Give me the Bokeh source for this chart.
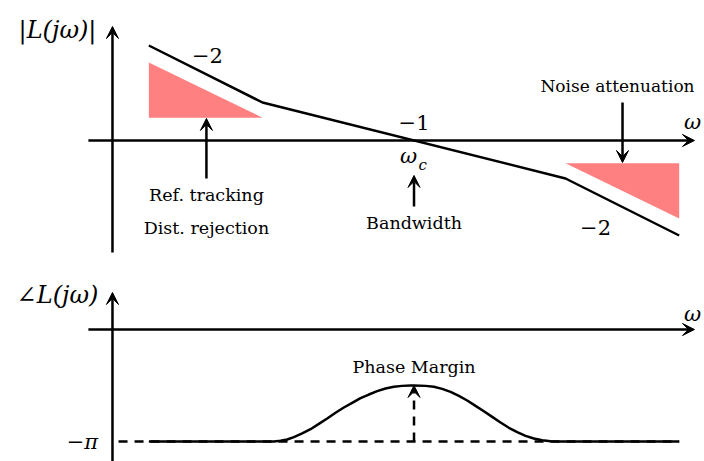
from bokeh.plotting import figure
from bokeh.models import Range1d, Arrow, VeeHead, Label
from bokeh.embed import file_html
from bokeh.resources import INLINE

# Loop-shaping sketch: asymptotic |L(jw)| (log-log) and the phase of L(jw).
# x is log10(w / w_c), so the crossover frequency sits at 0.

# magnitude asymptote (log10 |L|) at its break points
mag_logw = [-1.75, -1.0, 1.0, 1.75]
mag_log = [2.5, 1.0, -1.0, -2.5]

# low-frequency performance region (tracking / disturbance rejection)
low_logw = [-1.75, -1.75, -1.0]
low_log = [2.05, 0.6, 0.6]

# high-frequency region (noise attenuation)
high_logw = [1.0, 1.75, 1.75]
high_log = [-0.6, -0.6, -2.05]

# phase of L(jw) in degrees
phase_logw = [-1.75, -0.925, -0.881, -0.837, -0.793, -0.738, -0.683, -0.628,
              -0.573, -0.518, -0.463, -0.408, -0.353, -0.298, -0.243, -0.188,
              -0.133, -0.078, -0.023, 0.0, 0.076, 0.131, 0.186, 0.241, 0.296,
              0.351, 0.406, 0.461, 0.516, 0.571, 0.626, 0.681, 0.736, 0.791,
              0.846, 0.901, 0.945, 1.75]
phase_deg = [-180, -180, -178.9, -176.8, -173, -167.1, -160.2, -151.6,
             -143, -133.9, -125.4, -117.9, -110.4, -104.5, -99.1, -94.8,
             -92.1, -90.6, -90.1, -90, -90.6, -92.1, -95.4, -100.2, -106.6,
             -114.1, -122.7, -131.3, -140.4, -149.5, -158, -165, -170.9, -175.2,
             -177.9, -179.5, -180, -180]
phase_peak = -90
phase_floor = -180

slope_labels = ["\u22122", "\u22121", "\u22122"]

BLACK = "black"
RED = "#ff8080"
SERIF = "DejaVu Serif"
LW = 2.5

p = figure(width=704, height=461, output_backend="svg", toolbar_location=None,
           x_range=Range1d(-2.729, 1.917), y_range=Range1d(-8.447, 3.684),
           x_axis_location=None, y_axis_location=None, min_border=0,
           outline_line_color=None, background_fill_color="white",
           border_fill_color="white")
p.extra_y_ranges = {"phase": Range1d(-212.14, 528.75)}
p.grid.visible = False


def head():
    return VeeHead(size=12, fill_color=BLACK, line_color=BLACK, line_width=1)


def arrow(x0, y0, x1, y1, rng="default", dash="solid"):
    p.add_layout(Arrow(x_start=x0, y_start=y0, x_end=x1, y_end=y1,
                       end=head(), line_color=BLACK, line_width=LW,
                       line_dash=dash, y_range_name=rng))


def label(x, y, text, size, rng="default", style="normal"):
    p.add_layout(Label(x=x, y=y, text=text, text_font=SERIF,
                       text_font_size=f"{size}px", text_font_style=style,
                       text_align="center", text_baseline="middle",
                       text_color=BLACK, y_range_name=rng))


# ---- magnitude panel ----
p.patch(low_logw, low_log, fill_color=RED, line_color=None)
p.patch(high_logw, high_log, fill_color=RED, line_color=None)

arrow(-2.149, 0, 1.851, 0)             # w axis
arrow(-1.99, -2.947, -1.99, 3.0)       # |L| axis

p.line(mag_logw, mag_log, line_color=BLACK, line_width=LW)

arrow(-1.37, -1.0, -1.37, 0.58)        # ref. tracking
arrow(0.0, -1.737, 0.0, -0.92)         # bandwidth
arrow(1.376, 1.0, 1.376, -0.58)        # noise attenuation

label(-2.353, 2.9, "|L(j\u03c9)|", 24, style="italic")
label(-1.363, 2.237, slope_labels[0], 21)
label(0.0, 0.474, slope_labels[1], 21)
label(1.198, -2.289, slope_labels[2], 21)
label(-0.036, -0.42, "\u03c9", 21, style="italic")
label(0.058, -0.64, "c", 15, style="italic")
label(1.838, 0.474, "\u03c9", 21, style="italic")
label(0.0, -2.184, "Bandwidth", 17.5)
label(-1.37, -1.447, "Ref. tracking", 17.5)
label(-1.37, -2.29, "Dist. rejection", 17.5)
label(1.343, 1.421, "Noise attenuation", 17)

# ---- phase panel ----
p.line([-1.95, 1.75], [phase_floor, phase_floor], line_color=BLACK,
       line_width=LW, line_dash="9 7", y_range_name="phase")
arrow(-2.149, 0, 1.851, 0, rng="phase")            # w axis
arrow(-1.99, -212.14, -1.99, 59.5, rng="phase")    # phase axis
p.line(phase_logw, phase_deg, line_color=BLACK, line_width=LW,
       line_join="round", y_range_name="phase")
arrow(0.0, phase_floor, 0.0, phase_peak, rng="phase", dash="9 7")

label(-2.353, 56.0, "\u2220L(j\u03c9)", 24, rng="phase", style="italic")
label(1.838, 25.7, "\u03c9", 21, rng="phase", style="italic")
label(-2.188, -180.0, "\u2212\u03c0", 21, rng="phase", style="italic")
label(0.0, -59.5, "Phase Margin", 17.5, rng="phase")

open("out.html", "w").write(file_html(p, INLINE))
